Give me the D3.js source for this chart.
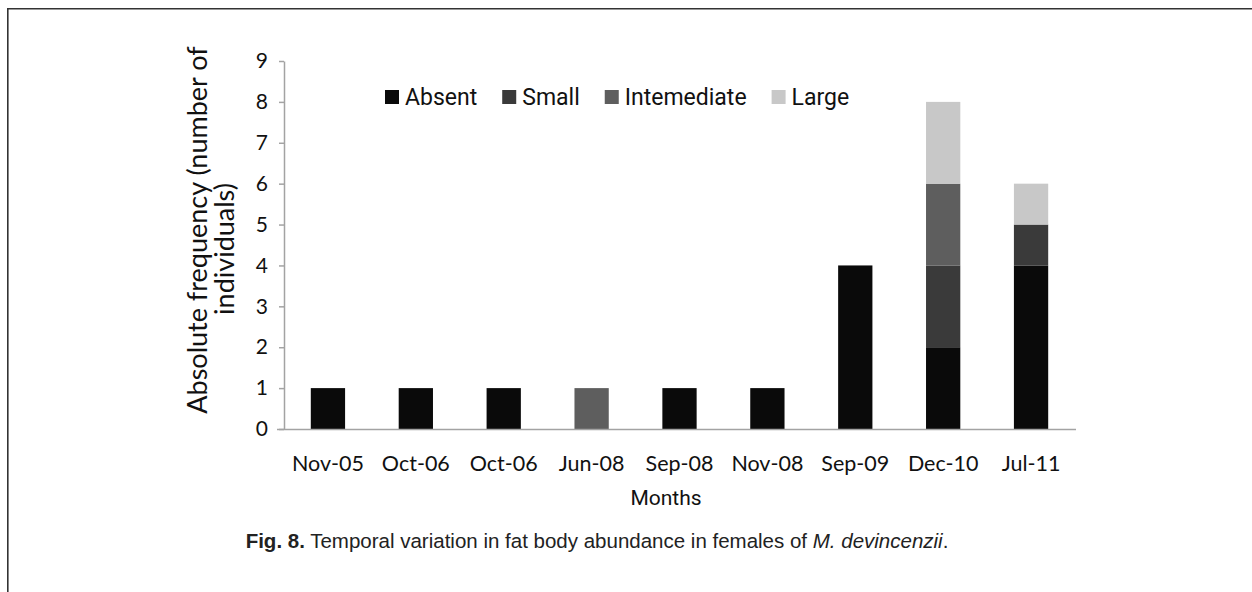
<!DOCTYPE html>
<html>
<head>
<meta charset="utf-8">
<script src="https://cdn.jsdelivr.net/npm/d3@7"></script>
<style>
  body { margin: 0; background: #fff; }
  svg { display: block; }
</style>
</head>
<body>
<script>
var months = ["Nov-05", "Oct-06", "Oct-06", "Jun-08", "Sep-08", "Nov-08", "Sep-09", "Dec-10", "Jul-11"];
var absent = [1, 1, 1, 0, 1, 1, 4, 2, 4];
var small = [0, 0, 0, 0, 0, 0, 0, 2, 1];
var intemediate = [0, 0, 0, 1, 0, 0, 0, 2, 0];
var large = [0, 0, 0, 0, 0, 0, 0, 2, 1];
var seriesNames = ["Absent", "Small", "Intemediate", "Large"];
var seriesColors = ["#0a0a0a", "#3a3a3a", "#5e5e5e", "#c8c8c8"];
var yTicks = [0, 1, 2, 3, 4, 5, 6, 7, 8, 9];

var W = 1252, H = 592;
var margin = {top: 61, right: 177, bottom: 163, left: 284},
width = W - margin.left - margin.right,
height = H - margin.top - margin.bottom;

var svg = d3.select("body").append("svg")
  .attr("width", W)
  .attr("height", H);

// frame around the figure
svg.append("path")
  .attr("d", "M7.8," + H + "V8.8H" + W)
  .attr("fill", "none")
  .attr("stroke", "#333")
  .attr("stroke-width", 1.6);

var g = svg.append("g")
  .attr("transform", "translate(" + margin.left + "," + margin.top + ")");

var rows = months.map(function(m, i) {
  return {i: i, Absent: absent[i], Small: small[i], Intemediate: intemediate[i], Large: large[i]};
});

var x = d3.scaleBand().domain(d3.range(months.length)).range([0, width]).paddingInner(0.61).paddingOuter(0.305);
var y = d3.scaleLinear().domain([0, 9]).range([height, 0]);
var color = d3.scaleOrdinal().domain(seriesNames).range(seriesColors);

var stack = d3.stack().keys(seriesNames)(rows);

g.selectAll("g.layer").data(stack).enter().append("g")
  .attr("class", "layer")
  .attr("fill", function(d) { return color(d.key); })
  .selectAll("rect").data(function(d) { return d; }).enter()
  .filter(function(d) { return d[1] > d[0]; })
  .append("rect")
  .attr("x", function(d) { return x(d.data.i); })
  .attr("y", function(d) { return y(d[1]); })
  .attr("width", x.bandwidth())
  .attr("height", function(d) { return y(d[0]) - y(d[1]); });

var axisColor = "#a3a3a3";
var tickFont = "Lato, 'Open Sans', sans-serif";

var yAxis = g.append("g")
  .call(d3.axisLeft(y).tickValues(yTicks).tickSize(5).tickSizeOuter(0).tickPadding(11));
yAxis.select(".domain").attr("stroke", axisColor).attr("stroke-width", 1.5);
yAxis.selectAll(".tick line").attr("stroke", axisColor).attr("stroke-width", 1.5);
yAxis.selectAll("text").attr("fill", "#111").style("font-family", tickFont).style("font-size", "21px");

var xAxis = g.append("g")
  .attr("transform", "translate(0," + height + ")")
  .call(d3.axisBottom(x).tickSize(0).tickSizeOuter(0).tickPadding(27).tickFormat(function(i) { return months[i]; }));
xAxis.select(".domain").attr("stroke", axisColor).attr("stroke-width", 1.5).attr("d", "M-7,0.5H" + (width + 1));
xAxis.selectAll("text").attr("fill", "#111").style("font-family", tickFont).style("font-size", "21.5px");

// axis titles
var yTitle = svg.append("g")
  .style("font-family", tickFont)
  .style("font-size", "27px")
  .attr("fill", "#111")
  .attr("text-anchor", "middle");
yTitle.append("text")
  .attr("transform", "translate(207,230) rotate(-90)")
  .text("Absolute frequency (number of");
yTitle.append("text")
  .attr("transform", "translate(234,249) rotate(-90)")
  .text("individuals)");

svg.append("text")
  .attr("x", 666)
  .attr("y", 505)
  .attr("text-anchor", "middle")
  .attr("fill", "#111")
  .style("font-family", "'Liberation Sans Narrow', 'Roboto', sans-serif")
  .style("font-size", "21px")
  .text("Months");

// legend
var legend = svg.append("g").attr("transform", "translate(385,97)");
var lx = 0;
seriesNames.forEach(function(name) {
  var item = legend.append("g").attr("transform", "translate(" + lx + ",0)");
  item.append("rect")
    .attr("x", 0).attr("y", -7)
    .attr("width", 14).attr("height", 14)
    .attr("fill", color(name));
  var t = item.append("text")
    .attr("x", 20).attr("y", 8)
    .attr("fill", "#111")
    .style("font-family", "Roboto, sans-serif")
    .style("font-size", "23px")
    .text(name);
  lx += 20 + t.node().getComputedTextLength() + 25;
});

// caption
var cap = svg.append("text")
  .attr("x", 597)
  .attr("y", 548)
  .attr("text-anchor", "middle")
  .attr("fill", "#222")
  .style("font-family", "'Liberation Sans', Arial, sans-serif")
  .style("font-size", "20.5px");
cap.append("tspan").attr("font-weight", "bold").text("Fig. 8.");
cap.append("tspan").text(" Temporal variation in fat body abundance in females of ");
cap.append("tspan").attr("font-style", "italic").text("M. devincenzii");
cap.append("tspan").text(".");
</script>
</body>
</html>
